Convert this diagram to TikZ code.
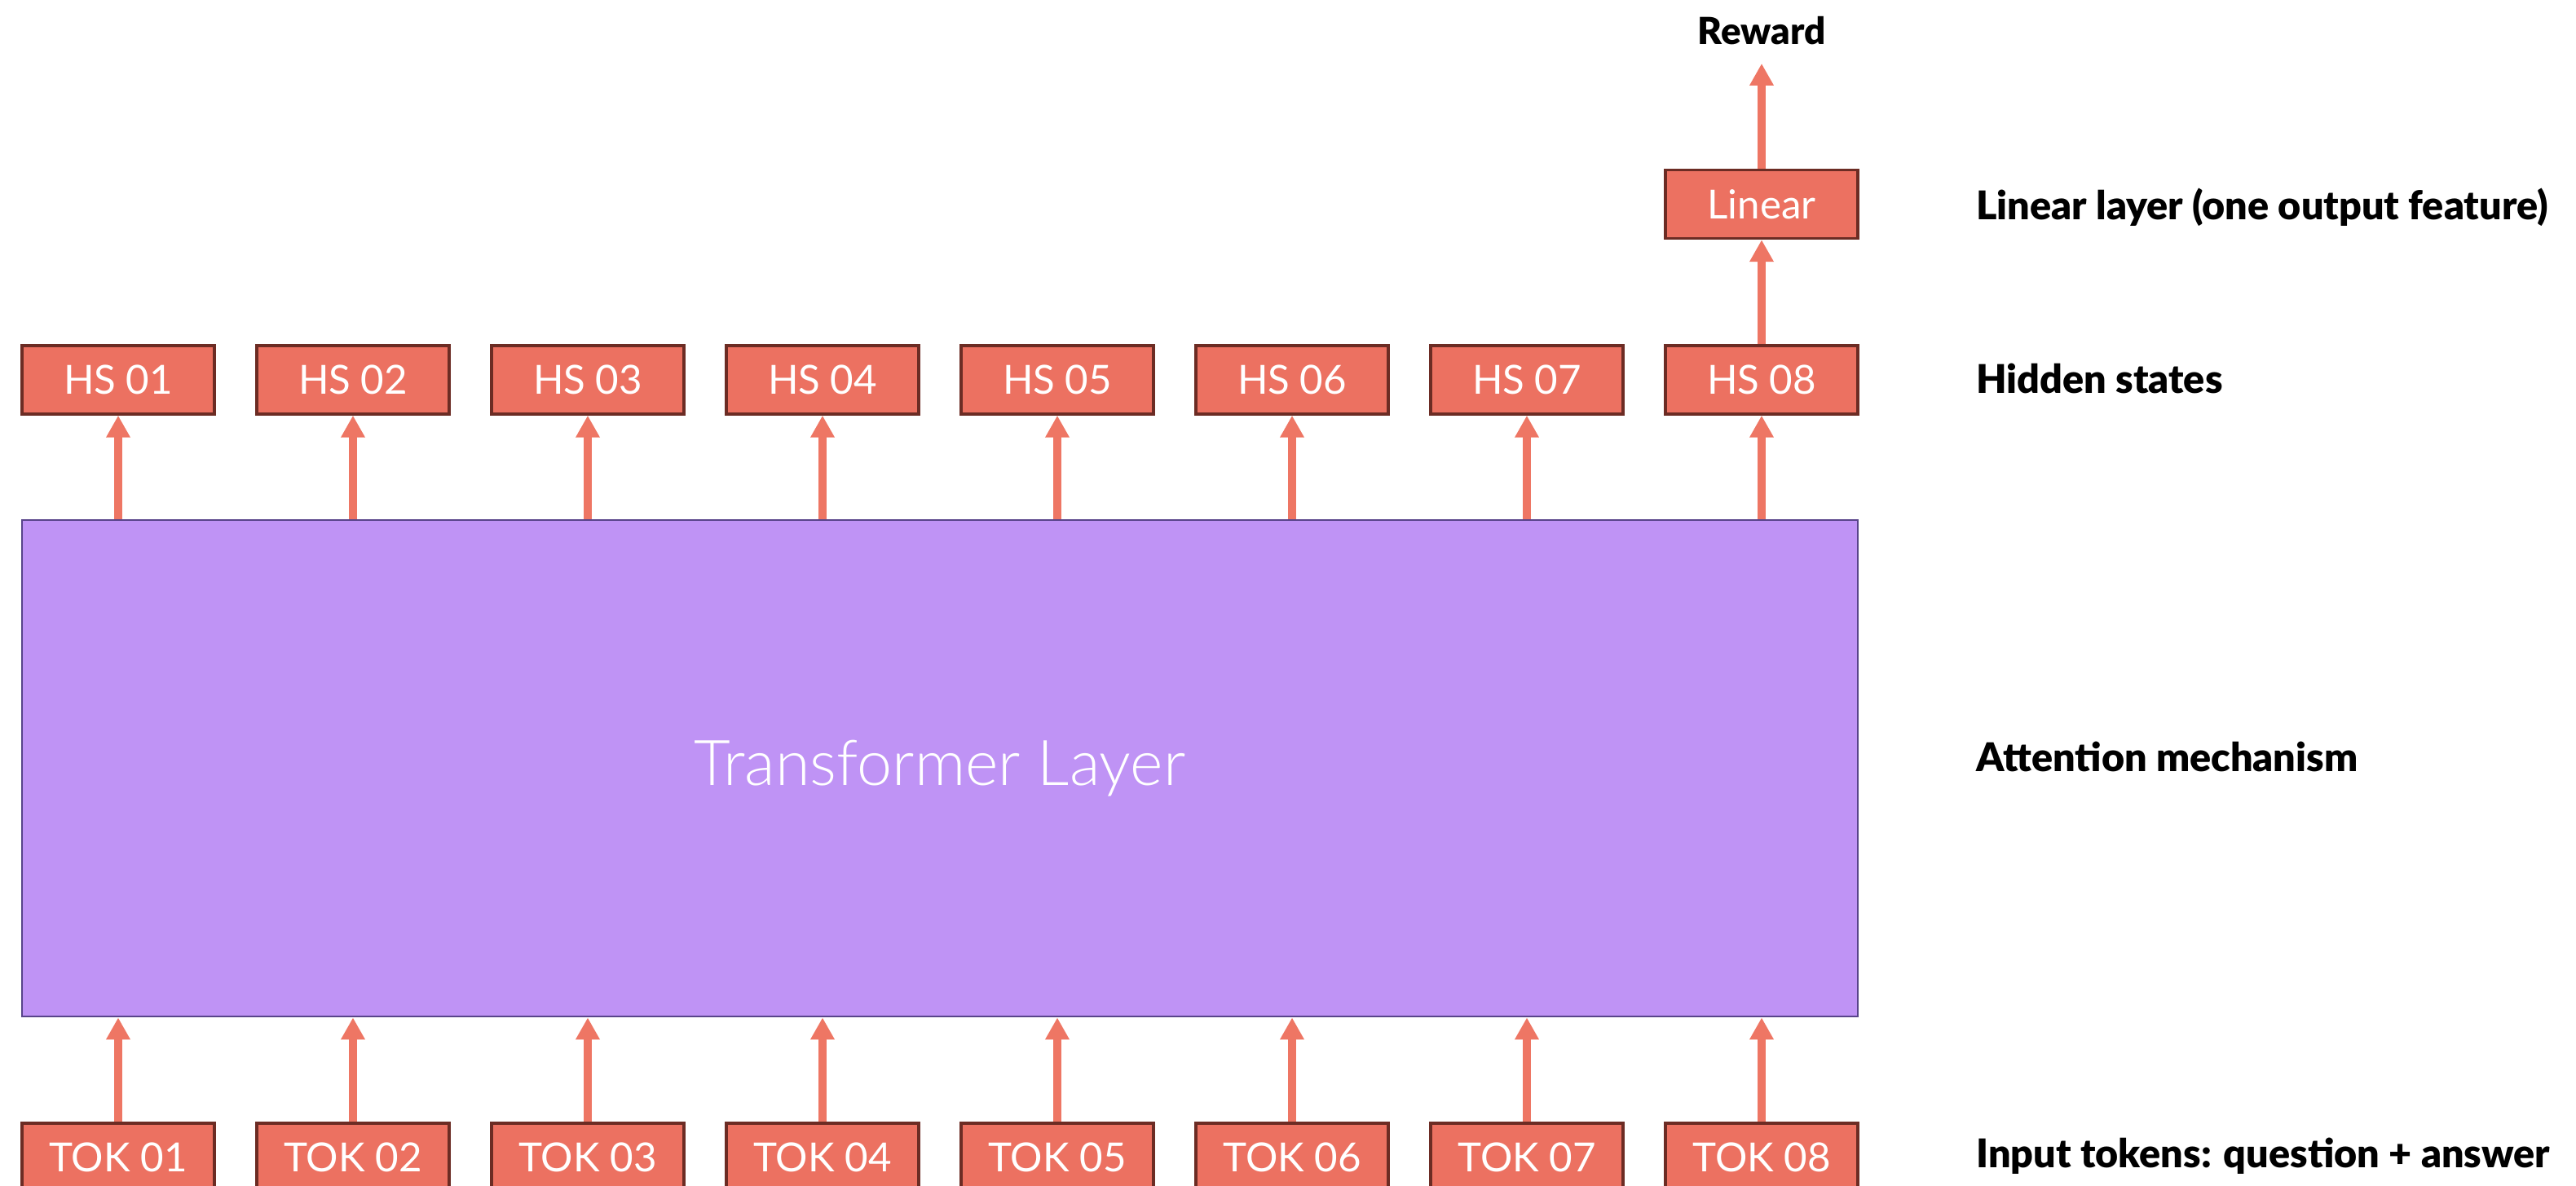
\documentclass[tikz,border=0pt]{standalone}
\usepackage{fontspec}
\setmainfont{Lato}
\newfontfamily\lightfont{Lato Light}
\newfontfamily\heavyfont{Lato Black}
\usetikzlibrary{shapes,arrows.meta,positioning}

\definecolor{tokred}{RGB}{236,113,97}
\definecolor{tokedge}{RGB}{108,44,36}
\definecolor{arrowred}{RGB}{238,118,100}
\definecolor{layerpurple}{RGB}{191,147,245}
\definecolor{layeredge}{RGB}{88,68,138}

\begin{document}
\begin{tikzpicture}[block/.style = {rectangle, draw=tokedge, line width=1pt, fill=tokred, text=white, minimum width=2.36cm, minimum height=0.84cm, inner sep=0pt, font=\fontsize{14}{16}\selectfont}, layer/.style = {rectangle, draw=layeredge, line width=0.8pt, fill=layerpurple, text=white, minimum width=22.52cm, minimum height=6.09cm, font=\lightfont\fontsize{22}{26}\selectfont}, line/.style = {draw=arrowred, line width=2.6pt, -{Triangle[width=0.28cm,length=0.27cm]}}, caption/.style = {anchor=base west, font=\heavyfont\fontsize{13.8}{15}\selectfont}, outcome/.style = {inner sep=0.22cm, font=\heavyfont\fontsize{13}{15}\selectfont}, node distance = 2.88cm]
					\useasboundingbox (0,0) rectangle (31.6,14.55);

					% input tokens along the bottom
					\node[block] (tok01) at (1.45,0.35) {TOK 01};
					\node[block,right of=tok01] (tok02) {TOK 02};
					\node[block,right of=tok02] (tok03) {TOK 03};
					\node[block,right of=tok03] (tok04) {TOK 04};
					\node[block,right of=tok04] (tok05) {TOK 05};
					\node[block,right of=tok05] (tok06) {TOK 06};
					\node[block,right of=tok06] (tok07) {TOK 07};
					\node[block,right of=tok07] (tok08) {TOK 08};

					% hidden states
					\node[block,above of=tok01,node distance=9.54cm] (hs01) {HS 01};
					\node[block,right of=hs01] (hs02) {HS 02};
					\node[block,right of=hs02] (hs03) {HS 03};
					\node[block,right of=hs03] (hs04) {HS 04};
					\node[block,right of=hs04] (hs05) {HS 05};
					\node[block,right of=hs05] (hs06) {HS 06};
					\node[block,right of=hs06] (hs07) {HS 07};
					\node[block,right of=hs07] (hs08) {HS 08};

					\node[block,above of=hs08,node distance=2.155cm] (linear) {Linear};
					\node[outcome,above of=linear,node distance=2.125cm] (reward) {Reward};

					\node[layer] (transformer) at (11.53,5.125) {Transformer Layer};

					% captions on the right
					\node[caption] (linearcap) at (24.12,11.85) {Linear layer (one output feature)};
					\node[caption] (hiddencap) at (24.12,9.72) {Hidden states};
					\node[caption] (attentioncap) at (24.12,5.08) {Attention mechanism};
					\node[caption] (inputcap) at (24.12,0.22) {Input tokens: question + answer};

					\path[line] (tok01) -- (tok01 |- transformer.south);
					\path[line] (tok02) -- (tok02 |- transformer.south);
					\path[line] (tok03) -- (tok03 |- transformer.south);
					\path[line] (tok04) -- (tok04 |- transformer.south);
					\path[line] (tok05) -- (tok05 |- transformer.south);
					\path[line] (tok06) -- (tok06 |- transformer.south);
					\path[line] (tok07) -- (tok07 |- transformer.south);
					\path[line] (tok08) -- (tok08 |- transformer.south);
					\path[line] (hs01 |- transformer.north) -- (hs01);
					\path[line] (hs02 |- transformer.north) -- (hs02);
					\path[line] (hs03 |- transformer.north) -- (hs03);
					\path[line] (hs04 |- transformer.north) -- (hs04);
					\path[line] (hs05 |- transformer.north) -- (hs05);
					\path[line] (hs06 |- transformer.north) -- (hs06);
					\path[line] (hs07 |- transformer.north) -- (hs07);
					\path[line] (hs08 |- transformer.north) -- (hs08);
					\path[line] (hs08) -- (linear);
					\path[line] (linear) -- (reward);
				\end{tikzpicture}
\end{document}
